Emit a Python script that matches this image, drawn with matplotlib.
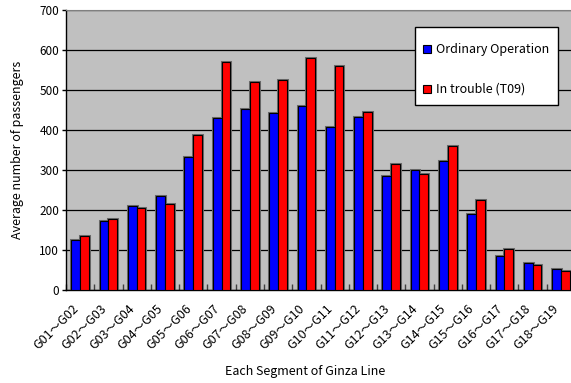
import matplotlib
matplotlib.use("Agg")
import matplotlib.pyplot as plt
import matplotlib.transforms as mtransforms
from matplotlib.patches import Rectangle
import numpy as np

plt.rcParams['font.family'] = ['Noto Sans CJK JP', 'DejaVu Sans']

segments = ["G01～G02", "G02～G03", "G03～G04", "G04～G05", "G05～G06", "G06～G07",
            "G07～G08", "G08～G09", "G09～G10", "G10～G11", "G11～G12", "G12～G13",
            "G13～G14", "G14～G15", "G15～G16", "G16～G17", "G17～G18", "G18～G19"]
ordinary = [124, 173, 209, 235, 333, 429, 453, 443, 461, 407, 433, 286, 299, 322, 189, 86, 68, 53]
trouble = [134, 178, 206, 215, 388, 571, 519, 524, 579, 560, 445, 314, 289, 359, 226, 103, 63, 48]
series_names = ['Ordinary Operation', 'In trouble (T09)']
series_colors = ['#0000FF', '#FF0000']

W, H = 571, 383
fig = plt.figure(figsize=(W / 100, H / 100), dpi=100)
ax = fig.add_axes([66 / W, 1 - 290 / H, 509 / W, 280 / H])
ax.set_facecolor('#C0C0C0')

x = np.arange(len(segments))
w = 0.31
off = w / 2
for pos, vals, col in [(x - off, ordinary, series_colors[0]), (x + off, trouble, series_colors[1])]:
    # soft grey halo under each bar, then the bar itself
    ax.bar(pos, vals, w, color='none', edgecolor='#6a6a6a', linewidth=2.2, zorder=2)
    ax.bar(pos, vals, w, color=col, edgecolor='black', linewidth=0.8, zorder=3)

ax.set_xlim(-0.5, len(segments) - 0.5)
ax.set_ylim(0, 700)
ax.set_yticks(np.arange(0, 701, 100))
ax.yaxis.grid(True, color='black', linewidth=0.9, zorder=1)
ax.set_axisbelow(True)

# category labels, rotated, hanging below each group
ax.set_xticks(np.arange(-0.5, len(segments), 1))
ax.tick_params(axis='x', direction='in', length=4, width=1, colors='#404040',
               labelbottom=False)
lbl_tf = mtransforms.blended_transform_factory(ax.transData, ax.transAxes) + \
    mtransforms.ScaledTranslation(-4 / 100, -17 / 100, fig.dpi_scale_trans)
for xi, name in zip(x, segments):
    ax.text(xi, 0, name, transform=lbl_tf, rotation=45, rotation_mode='anchor',
            ha='right', va='center', fontsize=9)

ax.tick_params(axis='y', direction='out', length=3, width=1, labelsize=8.5, pad=2)

for s in ['left', 'bottom']:
    ax.spines[s].set_color('black')
    ax.spines[s].set_linewidth(1)
ax.spines['top'].set_color('#808080')
ax.spines['right'].set_visible(False)

ax.set_ylabel('Average number of passengers', fontsize=9, labelpad=11)
fig.text(0.47 * 509 / W + 66 / W, 1 - 371 / H, 'Each Segment of Ginza Line',
         fontsize=9, ha='center', va='center')

# legend box
def px(xp, yp):
    return xp / W, 1 - yp / H

bx0, by0 = px(415, 105)
bx1, by1 = px(558, 27)
fig.patches.append(Rectangle((bx0, by0), bx1 - bx0, by1 - by0, transform=fig.transFigure,
                             facecolor='white', edgecolor='black', linewidth=1, zorder=5))
for name, col, yc in zip(series_names, series_colors, [49, 89]):
    sx, sy = px(423, yc + 4)
    fig.patches.append(Rectangle((sx, sy), 8 / W, 8 / H, transform=fig.transFigure,
                                 facecolor=col, edgecolor='black', linewidth=0.8, zorder=6))
    tx, ty = px(436, yc)
    fig.text(tx, ty, name, fontsize=9, ha='left', va='center', zorder=7)

fig.savefig('out.png', dpi=100)
